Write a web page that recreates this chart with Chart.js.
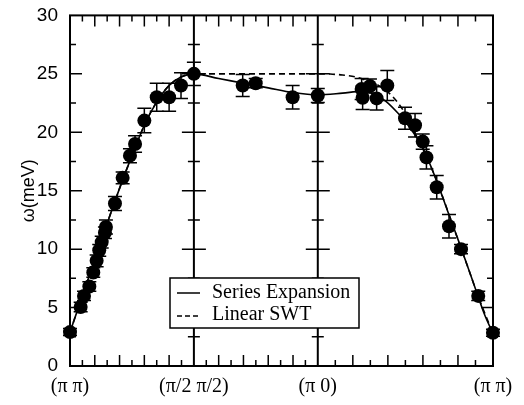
<!DOCTYPE html>
<html>
<head>
<meta charset="utf-8">
<script src="https://cdn.jsdelivr.net/npm/chart.js@4/dist/chart.umd.min.js"></script>
<style>
  html, body { margin: 0; padding: 0; background: #fff; }
</style>
</head>
<body>
<canvas id="myChart" width="524" height="405"></canvas>
<script>
// path (π π) -> (π/2 π/2) -> (π 0) -> (π π), x in units of the first segment
const segEnds = [0, 1, 2, 2 + Math.SQRT2];
const xTickLabels = ["(\u03c0 \u03c0)", "(\u03c0/2 \u03c0/2)", "(\u03c0 0)", "(\u03c0 \u03c0)"];
const yTicks = [0, 5, 10, 15, 20, 25, 30];

// measured points with error bars
const ptX = [0, 0.086, 0.113, 0.156, 0.188, 0.215, 0.236, 0.256, 0.282, 0.29, 0.363, 0.425, 0.484, 0.525,
    0.6, 0.7, 0.8, 0.896, 1.0, 1.394, 1.499, 1.797, 2.0, 2.354, 2.421, 2.362, 2.475, 2.561, 2.704, 2.785,
    2.847, 2.877, 2.96, 3.059, 3.156, 3.295, 3.414];
const ptY = [2.9, 5.05, 6.0, 6.8, 8.0, 9.0, 9.9, 10.6, 11.4, 11.9, 13.9, 16.1, 18.0, 19.0,
    21.0, 23.0, 23.0, 24.0, 25.0, 24.0, 24.2, 23.0, 23.15, 23.7, 23.95, 22.95, 22.9, 24.0, 21.2, 20.6,
    19.2, 17.85, 15.3, 11.96, 10.0, 6.0, 2.85];
const ptErr = [0.3, 0.4, 0.4, 0.4, 0.4, 0.5, 0.5, 0.5, 0.5, 0.6, 0.6, 0.5, 0.6, 0.7,
    1.05, 1.2, 1.2, 1.1, 1.0, 0.95, 0.4, 1.0, 0.6, 0.9, 0.6, 1.0, 1.0, 1.28, 0.95, 1.0,
    0.65, 1.0, 1.0, 1.0, 0.4, 0.4, 0.3];

// Series Expansion curve
const seX = [0, 0.1, 0.2, 0.3, 0.4, 0.5, 0.6, 0.7, 0.8, 0.9, 1.0, 1.2, 1.4, 1.6, 1.8, 2.0, 2.2, 2.35,
    2.45, 2.55, 2.65, 2.75, 2.85, 2.95, 3.05, 3.15, 3.25, 3.35, 3.414];
const seY = [2.9, 6.0, 9.1, 12.2, 15.2, 18.0, 20.6, 22.6, 24.0, 24.75, 25.0, 24.6, 24.2, 23.8, 23.4, 23.2, 23.35, 23.5,
    23.3, 22.65, 21.6, 20.3, 18.6, 16.1, 13.2, 10.3, 7.3, 4.3, 2.8];

// Linear SWT curve
const swX = [0, 0.1, 0.2, 0.3, 0.4, 0.5, 0.6, 0.7, 0.8, 0.9, 1.0, 1.5, 2.0, 2.1, 2.2, 2.3, 2.4, 2.5,
    2.6, 2.7, 2.8, 2.9, 3.0, 3.1, 3.2, 3.3, 3.414];
const swY = [2.9, 6.0, 9.1, 12.2, 15.2, 18.0, 20.6, 22.6, 24.0, 24.75, 25.0, 25.0, 25.0, 24.98, 24.9, 24.75, 24.4, 23.95,
    23.1, 21.7, 19.6, 17.4, 14.7, 11.75, 8.8, 5.8, 2.8];

const zip = (xs, ys) => xs.map((x, i) => ({ x: x, y: ys[i] }));

const frameAndBars = {
    id: "frameAndBars",
    beforeDatasetsDraw(chart) {
        const ctx = chart.ctx, xs = chart.scales.x, ys = chart.scales.y;
        ctx.save();
        ctx.strokeStyle = "#000";
        ctx.lineWidth = 1.5;
        for (let i = 0; i < ptX.length; i++) {
            const px = xs.getPixelForValue(ptX[i]);
            const top = ys.getPixelForValue(ptY[i] + ptErr[i]);
            const bot = ys.getPixelForValue(ptY[i] - ptErr[i]);
            ctx.beginPath();
            ctx.moveTo(px, top); ctx.lineTo(px, bot);
            ctx.moveTo(px - 7, top); ctx.lineTo(px + 7, top);
            ctx.moveTo(px - 7, bot); ctx.lineTo(px + 7, bot);
            ctx.stroke();
        }
        ctx.restore();
    },
    afterDraw(chart) {
        const ctx = chart.ctx, ca = chart.chartArea, xs = chart.scales.x, ys = chart.scales.y;
        ctx.save();
        ctx.strokeStyle = "#000";
        ctx.lineWidth = 2;
        ctx.strokeRect(ca.left, ca.top, ca.right - ca.left, ca.bottom - ca.top);

        // inner vertical lines at the symmetry points
        const inner = [segEnds[1], segEnds[2]].map(v => xs.getPixelForValue(v));
        ctx.beginPath();
        inner.forEach(px => { ctx.moveTo(px, ca.top); ctx.lineTo(px, ca.bottom); });
        ctx.stroke();

        // x ticks, 10 per segment, inward on top and bottom
        ctx.lineWidth = 1.5;
        ctx.beginPath();
        for (let s = 0; s < 3; s++) {
            const a = segEnds[s], b = segEnds[s + 1];
            for (let k = 1; k < 10; k++) {
                const px = xs.getPixelForValue(a + (b - a) * k / 10);
                const len = k % 2 === 0 ? 11 : 6;
                ctx.moveTo(px, ca.bottom); ctx.lineTo(px, ca.bottom - len);
                ctx.moveTo(px, ca.top); ctx.lineTo(px, ca.top + len);
            }
        }
        // y ticks, inward on sides, both ways on the inner lines
        for (let v = 2.5; v < 30; v += 2.5) {
            const py = ys.getPixelForValue(v);
            const len = (v % 5 === 0) ? 12 : 6;
            ctx.moveTo(ca.left, py); ctx.lineTo(ca.left + len, py);
            ctx.moveTo(ca.right, py); ctx.lineTo(ca.right - len, py);
            inner.forEach(px => { ctx.moveTo(px - len, py); ctx.lineTo(px + len, py); });
        }
        ctx.stroke();

        // legend box
        const lx = 170, ly = 278, lw = 189, lh = 50;
        ctx.fillStyle = "#fff";
        ctx.fillRect(lx, ly, lw, lh);
        ctx.lineWidth = 1.5;
        ctx.strokeRect(lx, ly, lw, lh);
        ctx.beginPath();
        ctx.moveTo(lx + 7, ly + 15); ctx.lineTo(lx + 30, ly + 15);
        ctx.stroke();
        ctx.setLineDash([5, 3]);
        ctx.beginPath();
        ctx.moveTo(lx + 7, ly + 38); ctx.lineTo(lx + 30, ly + 38);
        ctx.stroke();
        ctx.setLineDash([]);
        ctx.fillStyle = "#000";
        ctx.font = "20px 'Liberation Serif'";
        ctx.textBaseline = "middle";
        ctx.fillText("Series Expansion", lx + 42, ly + 15);
        ctx.fillText("Linear SWT", lx + 42, ly + 37);
        ctx.restore();
    }
};

let ctx = document.getElementById("myChart").getContext("2d");
let myChart = new Chart(ctx, {
    type: "scatter",
    data: {
        datasets: [{
            label: "data",
            data: zip(ptX, ptY),
            pointRadius: 7,
            pointBackgroundColor: "#000",
            pointBorderWidth: 0,
            showLine: false,
            clip: false
        }, {
            label: "Series Expansion",
            data: zip(seX, seY),
            showLine: true,
            pointRadius: 0,
            borderColor: "#000",
            borderWidth: 1.6,
            cubicInterpolationMode: "monotone"
        }, {
            label: "Linear SWT",
            data: zip(swX, swY),
            showLine: true,
            pointRadius: 0,
            borderColor: "#000",
            borderWidth: 1.6,
            borderDash: [6, 4],
            cubicInterpolationMode: "monotone"
        }]
    },
    options: {
        responsive: false,
        animation: false,
        devicePixelRatio: 1,
        layout: { padding: { left: 0, right: 31, top: 14, bottom: 0 } },
        plugins: { legend: { display: false }, tooltip: { enabled: false } },
        scales: {
            x: {
                type: "linear",
                min: 0,
                max: segEnds[3],
                grid: { display: false },
                border: { display: false },
                afterBuildTicks: s => { s.ticks = segEnds.map(v => ({ value: v })); },
                afterFit: s => { s.height = 39; },
                ticks: {
                    autoSkip: false,
                    maxRotation: 0,
                    padding: 1,
                    color: "#000",
                    font: { family: "'Liberation Serif'", size: 20 },
                    callback: (v, i) => xTickLabels[i]
                }
            },
            y: {
                min: 0,
                max: 30,
                grid: { display: false },
                border: { display: false },
                afterBuildTicks: s => { s.ticks = yTicks.map(v => ({ value: v })); },
                afterFit: s => { s.width = 70; },
                title: {
                    display: true,
                    text: "\u03c9(meV)",
                    color: "#000",
                    font: { family: "'Liberation Sans'", size: 18 },
                    padding: { top: 18, bottom: 0 }
                },
                ticks: {
                    padding: 4,
                    color: "#000",
                    font: { family: "'Liberation Sans'", size: 19 }
                }
            }
        }
    },
    plugins: [frameAndBars]
});
</script>
</body>
</html>
